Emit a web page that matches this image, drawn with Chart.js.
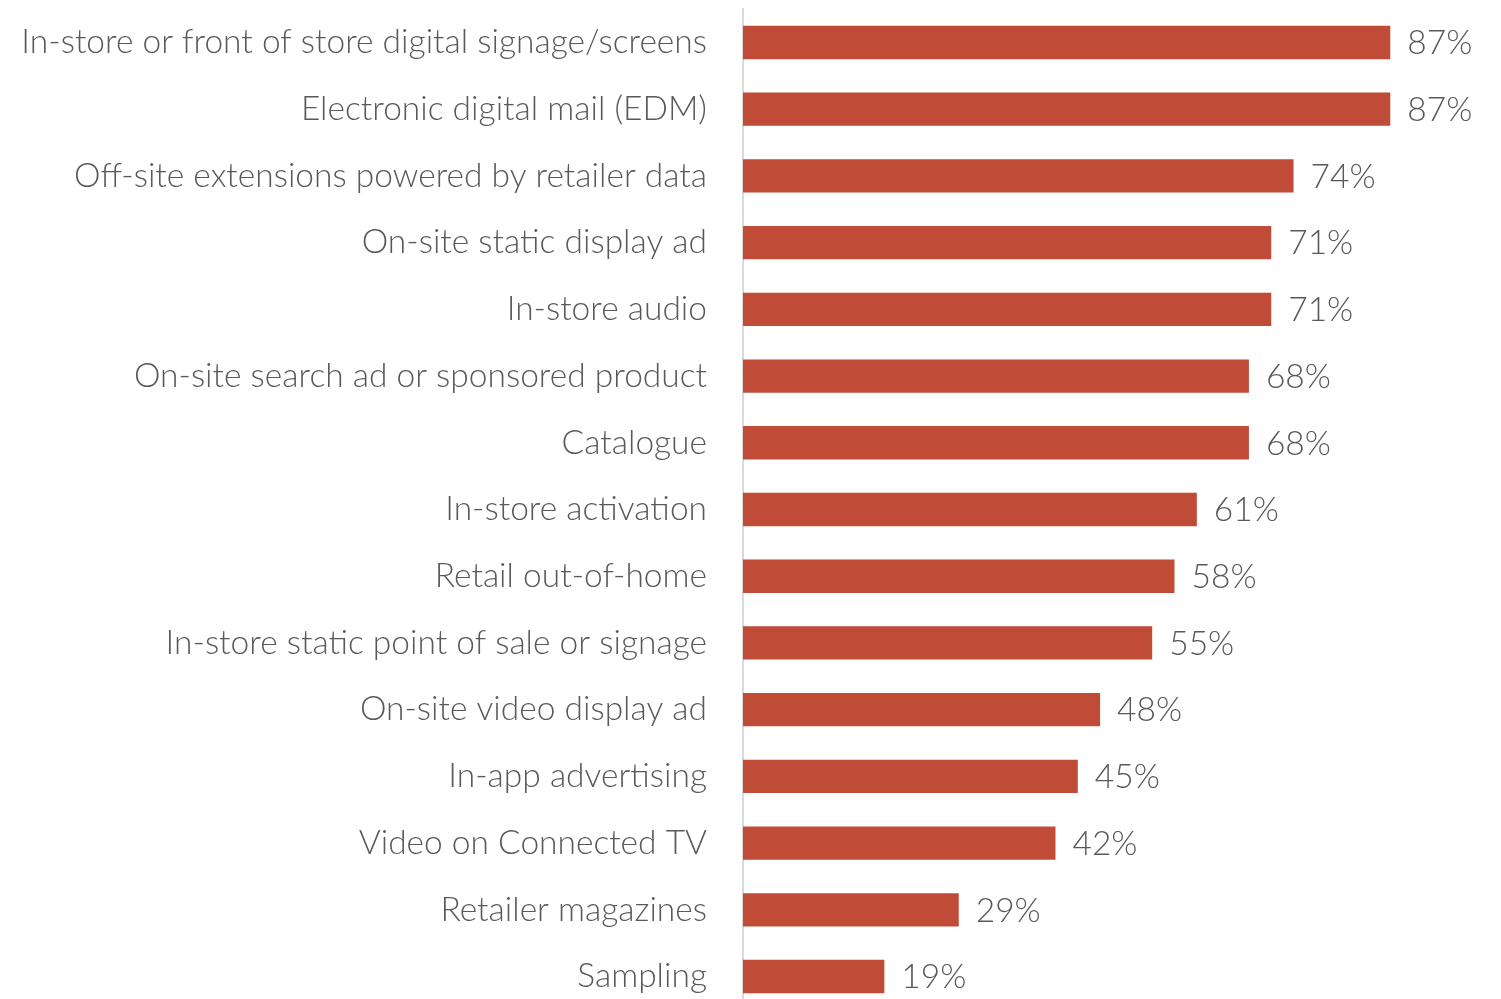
<!DOCTYPE html>
<html>
<head>
<meta charset="utf-8">
<script src="https://cdn.jsdelivr.net/npm/chart.js@4"></script>
<style>
    html, body { margin: 0; padding: 0; background: #fff; overflow: hidden; }
    /* canvas is a bit taller than the window so the last bar sits at the bottom edge */
    #wrap { width: 1501px; height: 1041px; position: absolute; left: 0; top: -11px; }
</style>
</head>
<body>
<div id="wrap"><canvas id="barChart"></canvas></div>
<script>
const categories = [
    'In-store or front of store digital signage/screens',
    'Electronic digital mail (EDM)',
    'Off-site extensions powered by retailer data',
    'On-site static display ad',
    'In-store audio',
    'On-site search ad or sponsored product',
    'Catalogue',
    'In-store activation',
    'Retail out-of-home',
    'In-store static point of sale or signage',
    'On-site video display ad',
    'In-app advertising',
    'Video on Connected TV',
    'Retailer magazines',
    'Sampling'
];
const shares = [87, 87, 74, 71, 71, 68, 68, 61, 58, 55, 48, 45, 42, 29, 19];

const FONT = 'Lato, "Noto Sans", sans-serif';
const TEXT_COLOR = '#595959';

// writes the percentage just past the end of each bar
const valueLabels = {
    id: 'valueLabels',
    afterDatasetsDraw(chart) {
        const ctx = chart.ctx;
        const meta = chart.getDatasetMeta(0);
        ctx.save();
        ctx.font = '300 33.5px ' + FONT;
        ctx.fillStyle = TEXT_COLOR;
        ctx.textAlign = 'left';
        ctx.textBaseline = 'middle';
        meta.data.forEach((bar, i) => {
            ctx.fillText(shares[i] + '%', bar.x + 17, bar.y + 1);
        });
        ctx.restore();
    }
};

const ctx = document.getElementById('barChart').getContext('2d');
new Chart(ctx, {
    type: 'bar',
    data: {
        labels: categories,
        datasets: [{
            data: shares,
            backgroundColor: '#C04B37',
            borderWidth: 0,
            barPercentage: 0.5,
            categoryPercentage: 1
        }]
    },
    options: {
        indexAxis: 'y',
        responsive: true,
        maintainAspectRatio: false,
        animation: false,
        layout: { padding: { top: 0, bottom: 0, left: 0, right: 14 } },
        plugins: {
            legend: { display: false },
            tooltip: { enabled: false }
        },
        scales: {
            x: {
                display: false,
                min: 0,
                max: 100
            },
            y: {
                // tick marks hidden, tickLength only pushes the labels off the axis
                grid: { display: false, drawTicks: true, tickLength: 36 },
                border: { display: true, color: '#d9d9d9', width: 2 },
                ticks: {
                    color: TEXT_COLOR,
                    font: { family: FONT, size: 33.5, weight: '300', lineHeight: 1.2 },
                    padding: 0
                },
                afterFit(scale) { scale.width = 743; }
            }
        }
    },
    plugins: [valueLabels]
});
</script>
</body>
</html>
